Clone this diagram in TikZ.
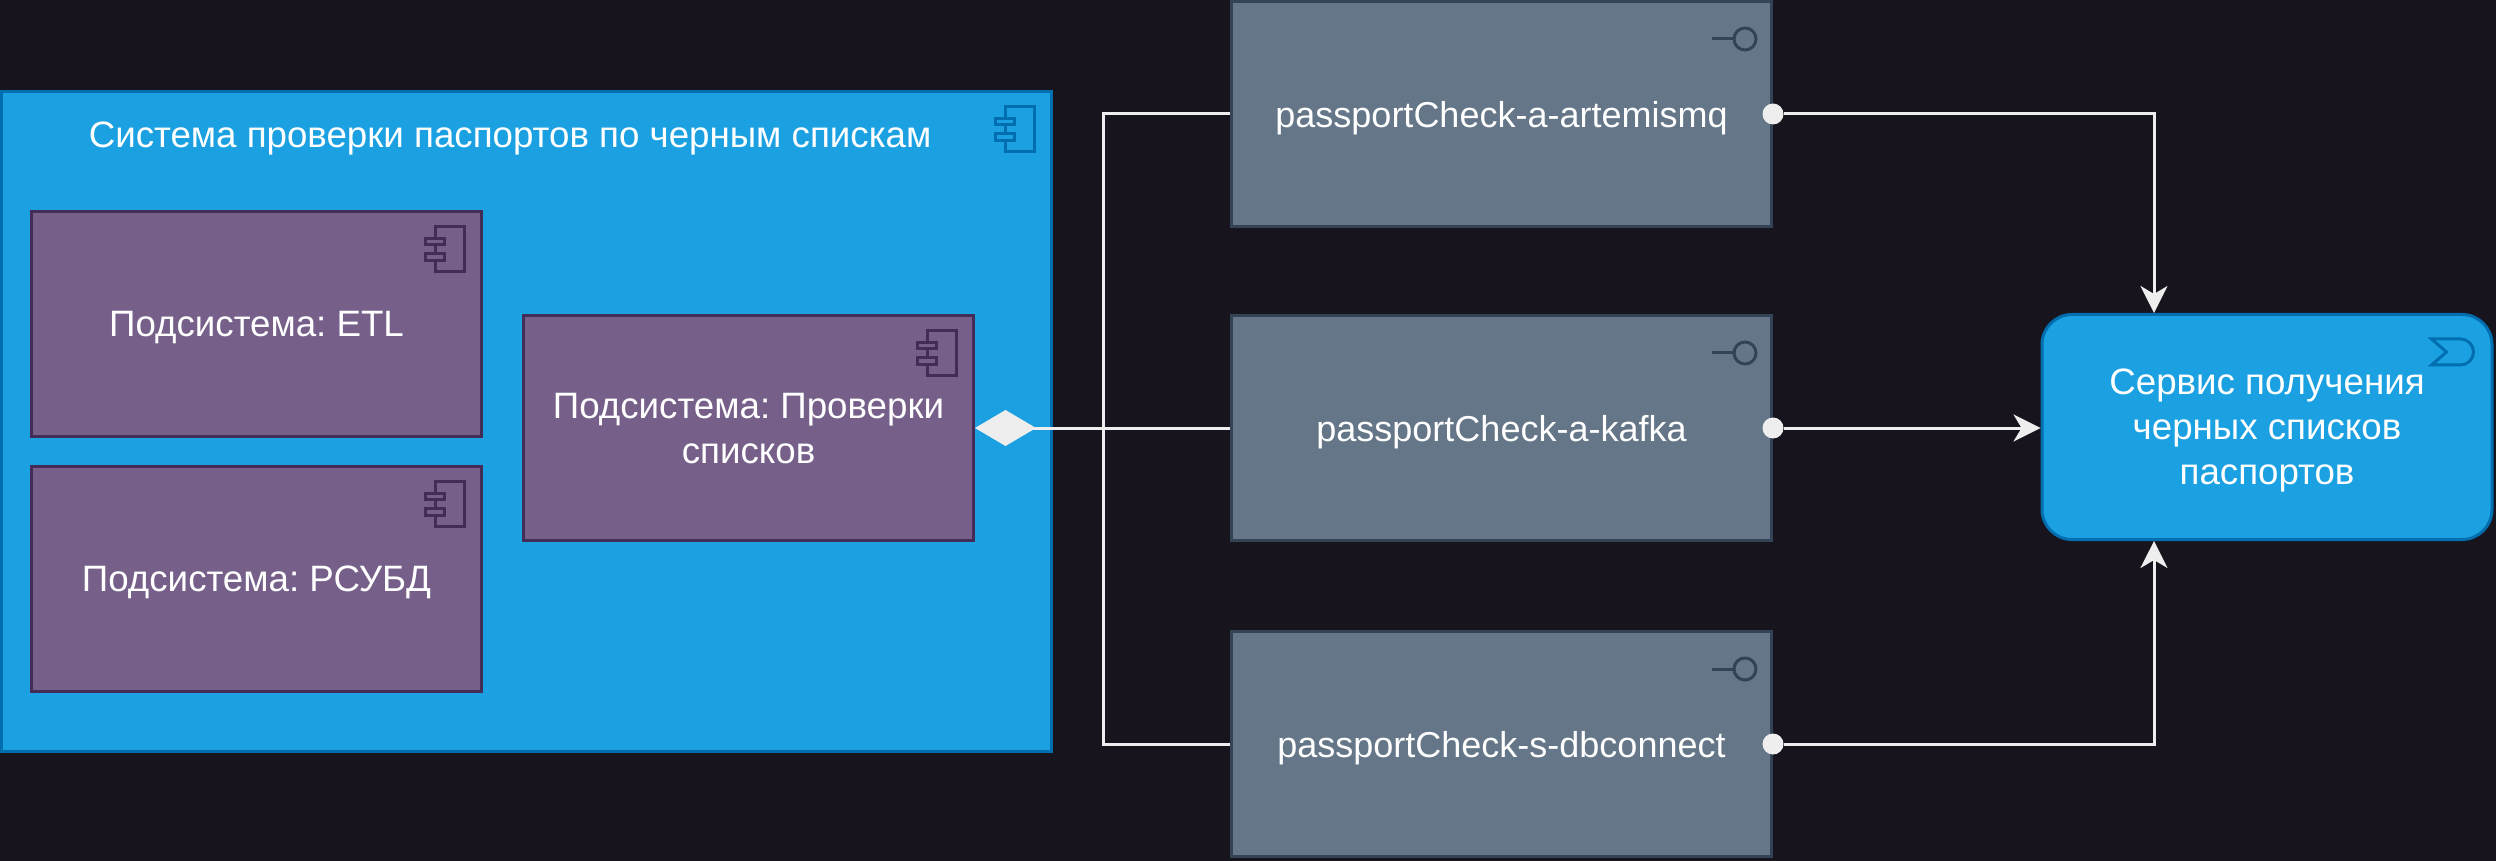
\documentclass[tikz,border=0pt]{standalone}
\usepackage{fontspec}
\setmainfont{Liberation Sans}
\usepackage{xcolor}
\usetikzlibrary{arrows.meta,positioning}
\definecolor{Night}{HTML}{18141D}
\definecolor{Sky}{HTML}{1BA1E2}
\definecolor{SkyLine}{HTML}{006EAF}
\definecolor{Plum}{HTML}{76608A}
\definecolor{PlumLine}{HTML}{432D57}
\definecolor{Slate}{HTML}{647687}
\definecolor{SlateLine}{HTML}{314354}
\definecolor{Wire}{HTML}{EEEEEE}

\begin{document}
\begin{tikzpicture}[
  x=0.5pt, y=-0.5pt,
  every node/.style={text=white, font=\fontsize{18.35}{22.5}\selectfont\frenchspacing, align=center, inner sep=0pt, text depth=0pt},
  plate/.style={draw=SkyLine, fill=Sky, line width=1.5pt, minimum width=525pt, minimum height=330pt},
  subsys/.style={draw=PlumLine, fill=Plum, line width=1.5pt, minimum width=225pt, minimum height=112.5pt},
  iface/.style={draw=SlateLine, fill=Slate, line width=1.5pt, minimum width=270pt, minimum height=112.5pt, font=\fontsize{18}{22.5}\selectfont},
  service/.style={draw=SkyLine, fill=Sky, line width=1.5pt, rounded corners=15pt, minimum width=225pt, minimum height=112.5pt},
  wire/.style={draw=Wire, line width=1.5pt},
  arrow/.style={wire, -{Stealth[length=13.5pt, width=13.5pt, inset=4pt]}},
  aggr/.style={wire, {Diamond[length=30.5pt, width=18pt]}-},
  dot/.style={circle, fill=Wire, minimum size=10.5pt},
  compicon/.pic={
    \draw[pic actions, line width=1.5pt] (-47.5,16.5) rectangle (-18.5,61.5);
    \draw[pic actions, line width=1.5pt] (-57.5,28.5) rectangle (-38.5,34.5);
    \draw[pic actions, line width=1.5pt] (-57.5,43.5) rectangle (-38.5,50.5);
  },
  ifaceicon/.pic={
    \draw[pic actions, line width=1.5pt] (-61,39)--(-39,39);
    \draw[pic actions, line width=1.5pt] (-28,39) circle [radius=11];
  },
  serviceicon/.pic={
    \draw[pic actions, line width=1.5pt] (-62,26)--(-33,26) arc [start angle=-90, end angle=90, radius=13]--(-62,52)--(-47,39)--cycle;
  }
]
\path[use as bounding box, fill=Night] (0,0) rectangle (2496,861);

% left system
\node[plate] (system) at (526.5,421.5) {};
\node (systemTitle) at (510,135) {Система проверки паспортов по черным спискам};
\pic[draw=SkyLine, fill=Sky] at (system.north east) {compicon};

\node[subsys] (etl) at (256.5,324) {Подсистема: ETL};
\node[subsys, below=13.5pt of etl] (rdbms) {Подсистема: РСУБД};
\node[subsys] (check) at (748.5,428) {Подсистема: Проверки\\списков};
\pic[draw=PlumLine, fill=Plum] at (etl.north east) {compicon};
\pic[draw=PlumLine, fill=Plum] at (rdbms.north east) {compicon};
\pic[draw=PlumLine, fill=Plum] at (check.north east) {compicon};

% interfaces
\node[iface] (artemis) at (1501.5,114) {passportCheck-a-artemismq};
\node[iface, below=43pt of artemis] (kafka) {passportCheck-a-kafka};
\node[iface, below=44pt of kafka] (dbconnect) {passportCheck-s-dbconnect};
\pic[draw=SlateLine, fill=Slate] at (artemis.north east) {ifaceicon};
\pic[draw=SlateLine, fill=Slate] at (kafka.north east) {ifaceicon};
\pic[draw=SlateLine, fill=Slate] at (dbconnect.north east) {ifaceicon};

% service
\node[service] (blacklist) at (2267,427) {Сервис получения\\черных списков\\паспортов};
\pic[draw=SkyLine, fill=Sky] at (blacklist.north east) {serviceicon};

\coordinate (trunk) at (1103,428);
\coordinate (blacklistTop) at (2154,313);
\coordinate (blacklistBottom) at (2154,541);

\draw[aggr] (check)--(kafka);
\draw[wire] (artemis)-|(trunk);
\draw[wire] (dbconnect)-|(trunk);

\node[dot] (dotArtemis) at (artemis.east) {};
\node[dot] (dotKafka) at (kafka.east) {};
\node[dot] (dotDbconnect) at (dbconnect.east) {};
\draw[arrow] (dotArtemis)-|(blacklistTop);
\draw[arrow] (dotKafka)--(dotKafka-|blacklist.west);
\draw[arrow] (dotDbconnect)-|(blacklistBottom);
\end{tikzpicture}
\end{document}
